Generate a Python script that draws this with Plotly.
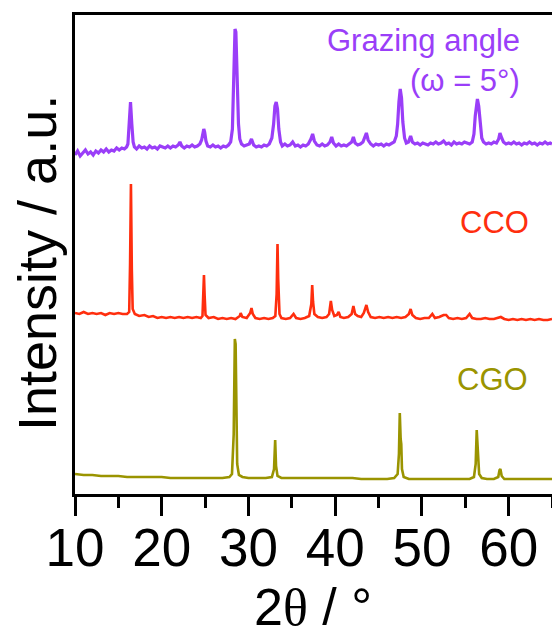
import plotly.graph_objects as go

# ---- data (2theta in degrees, intensity in a.u., stacked) ----
gi_points = [
    (10.0,339),(10.3,343),(10.6,338),(10.9,341),(11.2,344),(11.5,340),(11.8,342),(12.1,339),(12.4,343),
    (12.7,341),(13.0,344),(13.3,342),(13.6,345),(13.9,342),(14.2,344),(14.5,343),(14.8,346),(15.1,344),
    (15.4,346),(15.7,345),(15.95,347),(16.1,350),(16.25,372),(16.4,392),(16.55,370),(16.7,352),(16.85,347),
    (17.1,345),(17.4,348),(17.7,346),(18.0,347),(18.3,345),(18.6,348),(18.9,346),(19.2,347),(19.5,345),
    (19.8,348),(20.1,347),(20.4,346),(20.7,348),(21.0,346),(21.3,348),(21.6,347),(21.9,349),(22.1,352),
    (22.3,348),(22.6,346),(22.9,348),(23.2,347),(23.5,349),(23.8,347),(24.1,348),(24.4,350),
    (24.6,354),(24.75,362),(24.85,365),(24.95,362),(25.1,353),(25.3,348),
    (25.6,347),(25.9,349),(26.2,347),(26.5,348),(26.8,346),(27.1,348),(27.4,347),(27.7,349),(27.95,352),
    (28.15,365),(28.3,420),(28.45,465),(28.55,462),(28.7,410),(28.85,370),(29.0,355),(29.2,350),(29.5,348),
    (29.8,349),(30.1,350),(30.35,355),(30.6,349),(30.9,347),(31.2,348),(31.5,347),(31.8,349),(32.1,348),
    (32.4,350),(32.7,356),(32.9,370),(33.05,388),(33.2,392),(33.35,385),(33.5,365),(33.7,352),(33.9,348),
    (34.2,350),(34.5,348),(34.8,349),(35.1,352),(35.4,348),(35.7,349),(36.0,347),(36.3,349),(36.6,348),
    (36.9,350),(37.2,355),(37.4,360),(37.6,353),(37.9,349),(38.2,348),(38.5,350),(38.8,348),(39.1,349),
    (39.4,352),(39.6,357),(39.8,351),(40.1,348),(40.4,350),(40.7,348),(41.0,349),(41.3,348),(41.6,350),
    (41.9,352),(42.1,357),(42.3,351),(42.6,349),(42.9,350),(43.2,352),(43.45,358),(43.6,361),(43.8,354),
    (44.1,350),(44.4,348),(44.7,350),(45.0,349),(45.3,350),(45.6,348),(45.9,350),(46.2,349),(46.5,351),
    (46.8,352),(47.05,358),(47.2,370),(47.35,392),(47.5,405),(47.65,396),(47.8,372),(48.0,356),(48.2,351),
    (48.45,352),(48.7,358),(48.9,352),(49.2,350),(49.5,351),(49.8,349),(50.1,351),(50.4,350),(50.7,349),
    (51.0,351),(51.3,350),(51.6,352),(51.9,350),(52.2,351),(52.5,353),(52.8,350),(53.1,351),(53.4,349),
    (53.7,352),(54.0,350),(54.3,351),(54.6,350),(54.9,352),(55.2,351),(55.5,350),(55.8,352),(56.0,360),
    (56.15,378),(56.3,393),(56.4,395),(56.55,388),(56.7,370),(56.9,356),(57.1,352),(57.4,350),(57.7,351),
    (58.0,350),(58.3,352),(58.6,351),(58.85,355),(59.0,361),(59.2,356),(59.4,352),(59.7,350),(60.0,351),
    (60.3,350),(60.6,352),(60.9,350),(61.2,351),(61.5,349),(61.8,351),(62.1,350),(62.4,352),(62.7,350),
    (63.0,351),(63.3,349),(63.6,351),(63.9,350),(64.2,352),(64.5,350),(64.8,351),(65.0,350),
]

cco_points = [
    (10.0,181),(10.5,180),(11.0,182),(11.5,180),(12.0,181),(12.5,180),(13.0,181),(13.5,179),(14.0,181),
    (14.5,180),(15.0,181),(15.5,180),(16.0,180),(16.25,182),(16.35,230),(16.45,310),(16.55,225),(16.65,185),
    (16.9,180),(17.4,178),(18.0,179),(18.5,177),(19.0,178),(19.5,176),(20.0,177),(20.5,176),(21.0,177),
    (21.5,176),(22.0,177),(22.5,176),(23.0,177),(23.5,176),(24.0,177),(24.5,176),(24.7,178),(24.8,200),
    (24.87,219),(24.95,198),(25.05,179),(25.4,176),(26.0,177),(26.5,175),(27.0,176),(27.5,175),(28.0,176),
    (28.5,175),(29.0,178),(29.1,181),(29.3,177),(29.8,176),(30.2,181),(30.35,186),(30.5,180),(30.8,176),
    (31.3,175),(31.8,176),(32.3,175),(32.8,176),(33.1,178),(33.25,200),(33.35,250),(33.43,215),(33.5,200),
    (33.58,180),(33.8,176),(34.3,175),(34.8,176),(35.2,180),(35.5,176),(36.0,175),(36.5,176),(37.0,178),
    (37.25,190),(37.35,209),(37.45,192),(37.6,180),(38.0,177),(38.5,176),(39.0,177),(39.3,180),(39.5,193),
    (39.65,184),(39.9,178),(40.2,179),(40.4,182),(40.6,177),(41.0,176),(41.5,177),(41.9,180),(42.1,188),
    (42.3,180),(42.6,178),(43.0,177),(43.3,181),(43.6,189),(43.8,182),(44.1,177),(44.6,176),(45.1,177),
    (45.6,176),(46.1,177),(46.6,176),(47.1,177),(47.6,176),(48.1,177),(48.5,180),(48.7,185),(48.9,179),
    (49.3,176),(49.8,175),(50.3,176),(50.8,176),(51.2,180),(51.5,176),(52.0,177),(52.5,179),(52.8,179),
    (53.1,176),(53.6,175),(54.1,176),(54.6,175),(55.1,176),(55.5,180),(55.8,176),(56.3,175),(56.8,175),
    (57.3,176),(57.8,175),(58.3,175),(58.8,176),(59.1,177),(59.5,175),(60.0,174),(60.5,175),(61.0,174),
    (61.5,175),(62.0,174),(62.5,175),(63.0,174),(63.5,175),(64.0,174),(64.5,174),(65.0,175),
]

cgo_points = [
    (10.0,20),(11.0,19),(12.0,19),(13.0,18),(14.0,18),(15.0,18),(16.0,17),(17.0,17),(18.0,17),(19.0,17),
    (20.0,17),(21.0,16),(22.0,16),(23.0,16),(24.0,16),(25.0,16),(26.0,16),(27.0,16),(27.8,17),(28.1,20),
    (28.3,60),(28.43,155),(28.52,150),(28.6,80),(28.7,30),(28.9,19),(29.3,17),(30.0,16),(31.0,16),(32.0,16),
    (32.7,17),(32.95,25),(33.08,54),(33.18,28),(33.35,18),(33.8,16),(35.0,16),(36.0,16),(37.0,16),(38.0,16),
    (39.0,16),(40.0,16),(41.0,16),(42.0,16),(43.0,15),(44.0,15),(45.0,15),(46.0,15),(46.8,16),(47.2,20),
    (47.35,40),(47.45,81),(47.55,55),(47.62,50),(47.7,25),(47.9,17),(48.5,15),(49.5,15),(50.5,15),(51.5,15),
    (52.5,15),(53.5,15),(54.5,15),(55.5,15),(56.0,17),(56.2,30),(56.32,64),(56.42,45),(56.5,35),(56.6,20),
    (56.9,16),(57.5,15),(58.3,15),(58.8,17),(58.95,24),(59.05,25),(59.2,18),(59.5,15),(60.5,15),(61.5,15),
    (62.5,15),(63.5,15),(64.5,15),(65.0,15),
]

series_names = ["Grazing angle (ω = 5°)", "CCO", "CGO"]
x_ticks = [10, 20, 30, 40, 50, 60]
x_tick_labels = ["10", "20", "30", "40", "50", "60"]

PURPLE = "#9A3EF8"
RED = "#FF2E0E"
OLIVE = "#9A9400"
FONT = "Arial, Liberation Sans, sans-serif"

fig = go.Figure()
for pts, name, color, lw in [
    (gi_points, series_names[0], PURPLE, 3.2),
    (cco_points, series_names[1], RED, 2.6),
    (cgo_points, series_names[2], OLIVE, 2.6),
]:
    fig.add_trace(go.Scatter(
        x=[p[0] for p in pts], y=[p[1] for p in pts], mode="lines", name=name,
        line=dict(color=color, width=lw), showlegend=False,
    ))

fig.update_layout(
    width=552, height=643,
    margin=dict(l=75, r=0, t=15, b=149),
    paper_bgcolor="white", plot_bgcolor="white",
    font=dict(family=FONT, color="black"),
    xaxis=dict(
        range=[10, 65], tickvals=x_ticks, ticktext=x_tick_labels,
        ticks="outside", ticklen=19, tickwidth=2.5, tickcolor="black",
        minor=dict(dtick=5, ticks="outside", ticklen=11, tickwidth=2.5, tickcolor="black"),
        showline=True, linecolor="black", linewidth=3, mirror=True,
        showgrid=False, zeroline=False,
        tickfont=dict(size=53, family=FONT, color="black"),
        ticklabelstandoff=-14,
    ),
    yaxis=dict(
        range=[0, 479], showticklabels=False, ticks="",
        showline=True, linecolor="black", linewidth=3,
        showgrid=False, zeroline=False,
    ),
)

annotations = [
    dict(text="Grazing angle", x=61.5, y=454, xanchor="right", yanchor="middle",
         font=dict(size=31, color=PURPLE)),
    dict(text="(ω = 5°)", x=61.5, y=414, xanchor="right", yanchor="middle",
         font=dict(size=31, color=PURPLE)),
    dict(text="CCO", x=62.6, y=272, xanchor="right", yanchor="middle",
         font=dict(size=31, color=RED)),
    dict(text="CGO", x=62.5, y=115, xanchor="right", yanchor="middle",
         font=dict(size=31, color=OLIVE)),
]
for a in annotations:
    fig.add_annotation(xref="x", yref="y", showarrow=False, **a)

# axis titles
fig.add_annotation(
    text="Intensity / a.u.", xref="paper", yref="paper",
    x=-38/477, y=(494-263)/479, xanchor="center", yanchor="middle",
    textangle=-90, showarrow=False, font=dict(size=54, family=FONT, color="black"),
)
fig.add_annotation(
    text="2<span style='font-family:Liberation Serif, Times New Roman, serif'>θ</span> / °",
    xref="paper", yref="paper",
    x=(313-75)/477, y=-(607-494)/479, xanchor="center", yanchor="middle",
    showarrow=False, font=dict(size=52, family=FONT, color="black"),
)

fig.write_html(
    "out.html",
    config={"displayModeBar": False},
    post_script="document.body.style.margin='0';document.body.style.overflow='hidden';",
)
